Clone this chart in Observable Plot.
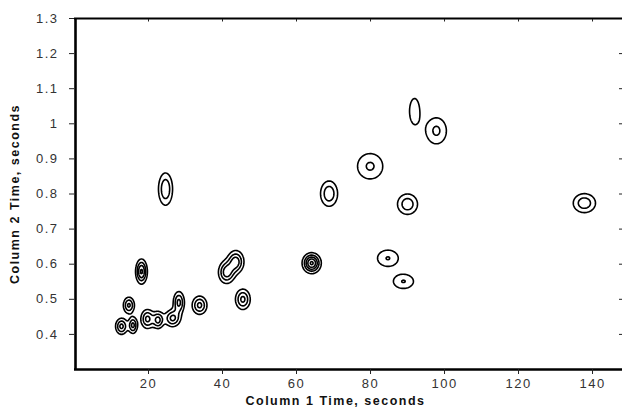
<!DOCTYPE html>
<html><head><meta charset="utf-8">
<script src="https://cdn.jsdelivr.net/npm/d3@7"></script>
<script src="https://cdn.jsdelivr.net/npm/@observablehq/plot@0.6"></script>
<style>
body{margin:0;background:#fff}
#chart svg text{letter-spacing:1.5px}
g[aria-label="text"] text, g[aria-label="y-axis label"] text{font-weight:bold;fill:#111;font-size:12.5px}
g[aria-label="x-axis tick label"] text, g[aria-label="y-axis tick label"] text{fill:#333}
</style></head><body><div id="chart"></div><script>
// Peak table
const peakTime1 = [12.7, 15.8, 14.7, 19.7, 22.6, 26.5, 28.2, 33.8, 18.1, 41.1, 43.6, 45.5, 64.1, 84.7, 88.9, 24.6, 68.8, 79.9, 90.0, 91.9, 97.8, 137.8];
const peakTime2 = [0.423, 0.426, 0.483, 0.444, 0.441, 0.446, 0.491, 0.483, 0.579, 0.577, 0.607, 0.500, 0.603, 0.617, 0.551, 0.814, 0.801, 0.879, 0.771, 1.036, 0.980, 0.774];
const peakHalfWidth1 = [1.6, 1.2, 1.5, 1.75, 1.5, 2.1, 1.5, 2.0, 1.6, 2.2, 2.2, 2.0, 2.6, 2.8, 2.7, 1.9, 2.3, 3.4, 2.7, 1.35, 2.7, 3.0];
const peakHalfWidth2 = [0.023, 0.023, 0.023, 0.027, 0.024, 0.024, 0.031, 0.026, 0.036, 0.032, 0.032, 0.029, 0.030, 0.023, 0.020, 0.046, 0.036, 0.036, 0.029, 0.036, 0.037, 0.027];
const peakLevel = [3.3, 3.3, 3.2, 3.3, 3.3, 3.3, 3.3, 3.3, 4.2, 3.6, 3.6, 3.3, 5.2, 2.05, 2.05, 2.9, 2.8, 2.15, 2.7, 1.4, 2.2, 2.7];
const contourLevels = [1, 2, 3, 4, 5];

const xTicks = [20, 40, 60, 80, 100, 120, 140];
const yTicks = [0.4, 0.5, 0.6, 0.7, 0.8, 0.9, 1.0, 1.1, 1.2, 1.3];
const yTickLabels = ["0.4", "0.5", "0.6", "0.7", "0.8", "0.9", "1", "1.1", "1.2", "1.3"];
const yRightTicks = [0.4, 0.5, 0.6, 0.7, 0.8, 0.9, 1.0, 1.1, 1.2];
const xTitle = "Column 1 Time, seconds";
const yTitle = "Column 2 Time, seconds";

const peaks = peakTime1.map((t1, i) => {
  const a = peakLevel[i];
  const k = Math.sqrt(2 * Math.log(a));
  return {t1, t2: peakTime2[i], s1: peakHalfWidth1[i] / k, s2: peakHalfWidth2[i] / k, a};
});
const signal = (x, y) => {
  let v = 0;
  for (const p of peaks) {
    const dx = (x - p.t1) / p.s1, dy = (y - p.t2) / p.s2;
    const e = dx * dx + dy * dy;
    if (e < 60) v += p.a * Math.exp(-e / 2);
  }
  return v;
};

const chart = Plot.plot({
  width: 622, height: 407,
  marginLeft: 74, marginRight: 0, marginTop: 18, marginBottom: 38,
  style: {fontFamily: "'Liberation Sans', Arial, sans-serif", fontSize: "13px", color: "#222", background: "#fff"},
  x: {domain: [0, 148.1]},
  y: {domain: [0.3, 1.3]},
  marks: [
    Plot.contour({value: signal, x1: 0, x2: 148.1, y1: 0.3, y2: 1.3, thresholds: contourLevels, stroke: "black", fill: "none", strokeWidth: 1.6, pixelSize: 1}),
    Plot.ruleX([0], {stroke: "black", strokeWidth: 2.6, dx: 1}),
    Plot.ruleY([0.3], {stroke: "black", strokeWidth: 2.6}),
    Plot.ruleY([1.3], {stroke: "black", strokeWidth: 2}),
    Plot.axisX({ticks: xTicks, tickSize: 5, tickPadding: 4, label: null}),
    Plot.text([xTitle], {text: d => d, frameAnchor: "bottom", lineAnchor: "bottom", dy: 35, dx: -13}),
    Plot.axisX({anchor: "top", ticks: xTicks, tickSize: -2.5, tickFormat: () => "", label: null}),
    Plot.axisY({ticks: yTicks, tickSize: 5, tickPadding: 11, tickFormat: d => yTickLabels[yTicks.indexOf(d)], label: yTitle, labelAnchor: "center", labelArrow: "none", labelOffset: 64}),
    Plot.axisY({anchor: "right", ticks: yRightTicks, tickSize: -4, tickFormat: () => "", label: null})
  ]
});
document.getElementById("chart").append(chart);
</script></body></html>
